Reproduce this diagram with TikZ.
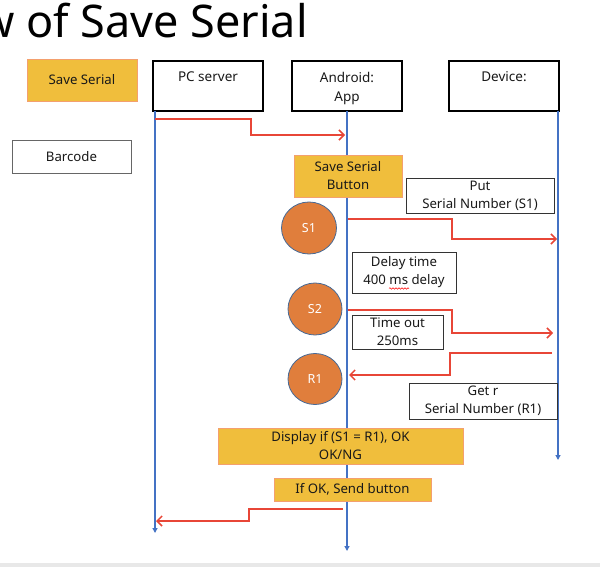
\documentclass[tikz,border=0pt]{standalone}
\usepackage{fontspec}
\setmainfont{Noto Sans}
\usetikzlibrary{arrows.meta,shapes.geometric,decorations.pathmorphing}
\definecolor{lifeblue}{RGB}{68,114,196}
\definecolor{msgred}{RGB}{232,70,55}
\definecolor{yel}{RGB}{240,190,60}
\definecolor{yelborder}{RGB}{244,160,110}
\definecolor{circfill}{RGB}{224,126,60}
\definecolor{circborder}{RGB}{70,105,150}
\definecolor{stripgray}{RGB}{232,232,232}
\begin{document}
\begin{tikzpicture}[x=1pt,y=-1pt,
  txt/.style={font=\fontsize{13.2}{18}\selectfont, text=black!90, align=center},
  hdr/.style={draw=black, line width=1.4pt, fill=white, inner sep=0},
  hdrlbl/.style={txt, font=\fontsize{13.5}{19.5}\selectfont, anchor=north, yshift=-8pt},
  plainbox/.style={draw=black!80, line width=0.8pt, fill=white, inner sep=0, txt},
  yelbox/.style={draw=yelborder, line width=0.8pt, fill=yel, inner sep=0, txt},
  sig/.style={ellipse, draw=circborder, line width=0.8pt, fill=circfill, inner sep=0,
    text=white, font=\fontsize{12.5}{15}\selectfont},
  life/.style={draw=lifeblue, line width=1.2pt, -{Triangle[length=5pt,width=5pt]}},
  msg/.style={draw=msgred, line width=1.5pt, -{Straight Barb[length=5pt,width=10pt]}},
  spell/.style={draw=red, line width=0.5pt, decorate, decoration={snake, amplitude=0.8pt, segment length=3pt}},
]
\useasboundingbox (0,0) rectangle (600,567);
\clip (0,0) rectangle (600,567);
\fill[stripgray] (0,563) rectangle (600,567);

% title
\node[anchor=base west, inner sep=0, font=\fontsize{45}{50}\selectfont] (title) at (-21,38) {w of Save Serial};

% header boxes
\node[yelbox, minimum width=110pt, minimum height=42pt] (save) at (82,80) {Save Serial};
\node[hdr, minimum width=110pt, minimum height=50pt,
  label={[hdrlbl]north:PC server}] (pc) at (208,86) {};
\node[hdr, minimum width=110pt, minimum height=50pt,
  label={[hdrlbl]north:Android:\\App}] (app) at (347,86) {};
\node[hdr, minimum width=110pt, minimum height=50pt,
  label={[hdrlbl]north:Device:}] (dev) at (504,86) {};

\node[plainbox, draw=black!60, minimum width=119pt, minimum height=33pt] (barcode) at (71.5,156.5) {Barcode};

% lifelines
\coordinate (pctop) at (155,111);
\coordinate (pcend) at (155,533);
\coordinate (apptop) at (347,111);
\coordinate (append) at (347,551);
\coordinate (devtop) at (558,111);
\coordinate (devend) at (558,460);
\draw[life] (pctop) -- (pcend);
\draw[life] (apptop) -- (append);
\draw[life] (devtop) -- (devend);

% boxes
\node[yelbox, minimum width=108pt, minimum height=42pt] (ssb) at (348,176) {Save Serial\\Button};
\node[plainbox, minimum width=148pt, minimum height=35pt] (put) at (480,195.5) {Put\\Serial Number (S1)};
\node[sig, minimum width=55pt, minimum height=52pt] (s1) at (309,228) {S1};
\node[plainbox, minimum width=104pt, minimum height=41pt] (delay) at (404,272.5) {Delay time\\400 ms delay};
\coordinate (wavea) at (389,288.5);
\coordinate (waveb) at (409,288.5);
\draw[spell] (wavea) -- (waveb);
\node[sig, minimum width=54pt, minimum height=52pt] (s2) at (315,309) {S2};
\node[plainbox, minimum width=91pt, minimum height=34pt] (tout) at (397.5,332) {Time out\\250ms};
\node[sig, minimum width=54pt, minimum height=51pt] (r1) at (315,379) {R1};
\node[plainbox, minimum width=148pt, minimum height=36pt] (getr) at (483,401) {Get r\\Serial Number (R1)};
\node[yelbox, minimum width=245pt, minimum height=36pt] (disp) at (340.5,446) {Display if (S1 = R1), OK\\OK/NG};
\node[yelbox, minimum width=157pt, minimum height=23pt] (ifok) at (352.5,489.5) {If OK, Send button};

% messages
\coordinate (m1a) at (155,119);
\coordinate (m1b) at (345,135);
\draw[msg] (m1a) -- (251,119) -- (251,135) -- (m1b);
\coordinate (m2a) at (348,219);
\coordinate (m2b) at (557,239);
\draw[msg] (m2a) -- (452,219) -- (452,239) -- (m2b);
\coordinate (m3a) at (348,310);
\coordinate (m3b) at (553,333);
\draw[msg] (m3a) -- (452,310) -- (452,333) -- (m3b);
\coordinate (m4a) at (552,353);
\coordinate (m4b) at (349,375);
\draw[msg] (m4a) -- (450,353) -- (450,375) -- (m4b);
\coordinate (m5a) at (343,509);
\coordinate (m5b) at (156,521);
\draw[msg] (m5a) -- (249,509) -- (249,521) -- (m5b);
\end{tikzpicture}
\end{document}
